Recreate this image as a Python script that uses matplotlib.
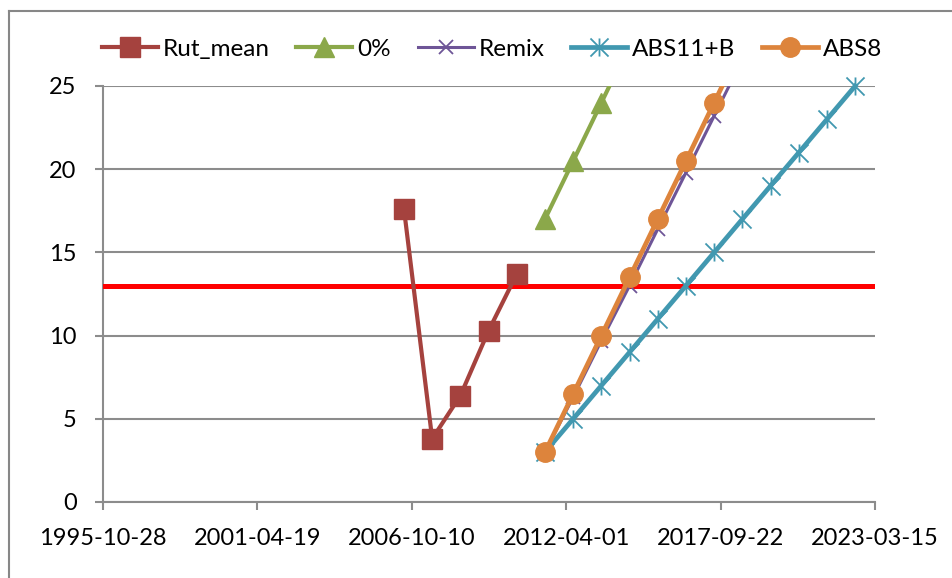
import matplotlib

matplotlib.use("Agg")
import matplotlib.dates as mdates
import matplotlib.pyplot as plt
import numpy as np
from matplotlib.lines import Line2D
from matplotlib.path import Path

plt.rcParams["font.family"] = ["Lato", "DejaVu Sans"]

# x axis range / ticks (every 2000 days, as in the original)
tick_labels = ["1995-10-28", "2001-04-19", "2006-10-10", "2012-04-01", "2017-09-22", "2023-03-15"]

rut_dates = ["2006-07-01", "2007-07-01", "2008-07-01", "2009-07-01", "2010-07-01"]
rut_mean = [17.6, 3.8, 6.4, 10.3, 13.7]

zero_dates = ["2011-07-01", "2012-07-01", "2013-07-01", "2014-07-01"]
zero_pct = [17.0, 20.5, 24.0, 27.5]

remix_dates = ["2011-07-01", "2012-07-01", "2013-07-01", "2014-07-01",
               "2015-07-01", "2016-07-01", "2017-07-01", "2018-07-01"]
remix = [3.0, 6.3, 9.7, 13.0, 16.4, 19.8, 23.2, 26.6]

abs11_dates = ["2011-07-01", "2012-07-01", "2013-07-01", "2014-07-01", "2015-07-01", "2016-07-01",
               "2017-07-01", "2018-07-01", "2019-07-01", "2020-07-01", "2021-07-01", "2022-07-01"]
abs11b = [3, 5, 7, 9, 11, 13, 15, 17, 19, 21, 23, 25]

abs8_dates = remix_dates
abs8 = [3.0, 6.5, 10.0, 13.5, 17.0, 20.5, 24.0, 27.5]

threshold = 13


def d(values):
    return mdates.datestr2num(values)


# Excel-like "star" marker: an X with a vertical bar
star = Path(
    [(-1, -1), (1, 1), (-1, 1), (1, -1), (0, -1), (0, 1)],
    [Path.MOVETO, Path.LINETO, Path.MOVETO, Path.LINETO, Path.MOVETO, Path.LINETO],
)

fig = plt.figure(figsize=(9.53, 5.78), dpi=100)
ax = fig.add_axes([103 / 953, 76 / 578, 772 / 953, 416 / 578])

grid_c = "#8c8c8c"
ax.plot(d(rut_dates), rut_mean, color="#a5423e", lw=3, marker="s", ms=14,
        mfc="#a5423e", mec="#a5423e", label="Rut_mean", clip_on=False, zorder=4)
ax.plot(d(zero_dates), zero_pct, color="#8ba84a", lw=3, marker="^", ms=15,
        mfc="#8ba84a", mec="#8ba84a", label="0%", zorder=4)
ax.plot(d(remix_dates), remix, color="#6e5597", lw=2.2, marker="x", ms=10, mew=1.3,
        label="Remix", zorder=4)
ax.plot(d(abs11_dates), abs11b, color="#4198b0", lw=3.4, marker=star, ms=13, mew=1.3,
        label="ABS11+B", clip_on=False, zorder=4)
ax.plot(d(abs8_dates), abs8, color="#dd843c", lw=3.4, marker="o", ms=14,
        mfc="#dd843c", mec="#dd843c", label="ABS8", zorder=5)
ax.axhline(threshold, color="#ff0000", lw=3.6, zorder=3)

ticks = d(tick_labels)
ax.set_xlim(ticks[0], ticks[-1])
ax.set_ylim(0, 25)
ax.set_xticks(ticks)
ax.set_xticklabels(tick_labels)
ax.set_yticks(np.arange(0, 26, 5))

ax.grid(axis="y", color=grid_c, lw=1.5)
ax.set_axisbelow(True)
for s in ["top", "right"]:
    ax.spines[s].set_visible(False)
for s in ["left", "bottom"]:
    ax.spines[s].set_color(grid_c)
    ax.spines[s].set_linewidth(1.5)
ax.tick_params(axis="both", colors=grid_c, labelcolor="black", labelsize=17,
               length=6, width=1.5, direction="out")
ax.tick_params(axis="y", pad=13)
ax.tick_params(axis="x", pad=13)

ax.legend(loc="upper center", bbox_to_anchor=(492 / 953, 1 - 29 / 578),
          bbox_transform=fig.transFigure, ncol=5, frameon=False, fontsize=17.5,
          handlelength=2.3, handletextpad=0.2, columnspacing=1.1, borderaxespad=0)

# chart area border
fig.add_artist(Line2D([9 / 953, 9 / 953], [0, 1 - 11 / 578], color="#878787", lw=1.5,
                      transform=fig.transFigure))
fig.add_artist(Line2D([9 / 953, 1], [1 - 11 / 578, 1 - 11 / 578], color="#878787", lw=1.5,
                      transform=fig.transFigure))

fig.savefig("out.png", dpi=100)
